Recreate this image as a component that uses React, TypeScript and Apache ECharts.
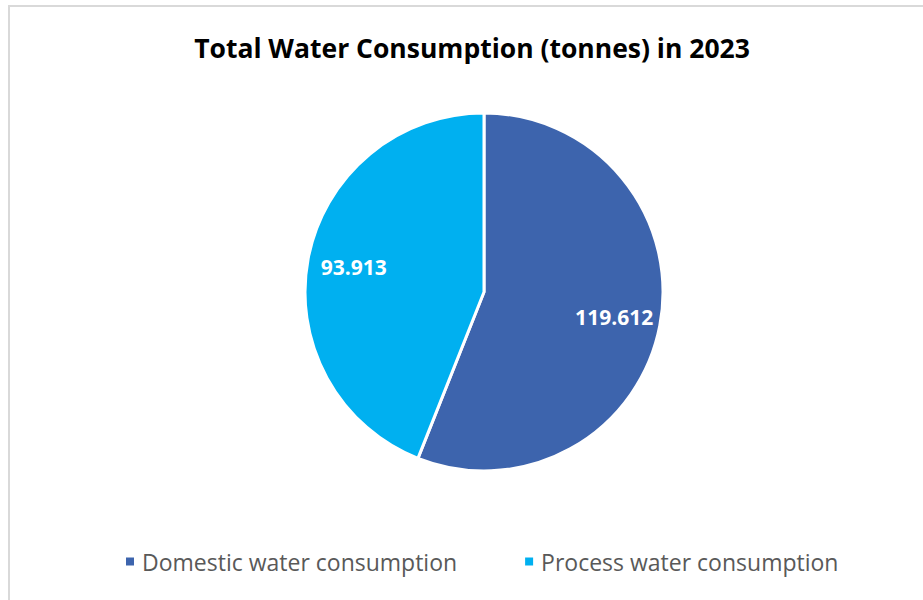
import React, { useEffect, useRef } from "react";
import * as echarts from "echarts";

const titleText = "Total Water Consumption (tonnes) in 2023";
const categories = ["Domestic water consumption", "Process water consumption"];
const values = [119.612, 93.913];
const colors = ["#3D64AD", "#00B0F0"];

export default function App() {
  const ref = useRef<HTMLDivElement>(null);
  useEffect(() => {
    if (!ref.current) return;
    const chart = echarts.init(ref.current, undefined, { renderer: "svg" });
    const data = categories.map((name, i) => ({
      name,
      value: values[i],
      itemStyle: { color: colors[i] },
    }));
    const labelData = categories.map((name, i) => ({
      name,
      value: values[i],
    }));
    chart.setOption({
      animation: false,
      backgroundColor: "#ffffff",
      title: {
        text: titleText,
        left: 467,
        textAlign: "center",
        top: 29,
        textStyle: {
          fontFamily: "Open Sans",
          fontWeight: "bold",
          fontSize: 26.5,
          color: "#000000",
        },
      },
      graphic: [
        {
          type: "rect",
          shape: { x: 9, y: 6, width: 960, height: 640 },
          style: { fill: "none", stroke: "#d9d9d9", lineWidth: 2 },
          silent: true,
          z: 100,
        },
      ],
      legend: {
        data: categories,
        bottom: 22,
        left: 119,
        itemWidth: 10,
        itemHeight: 10,
        itemGap: 66,
        icon: "rect",
        textStyle: {
          fontFamily: "Open Sans",
          fontSize: 23,
          color: "#595959",
          padding: [0, 0, 0, 2],
        },
      },
      series: [
        {
          type: "pie",
          center: [484, 292],
          radius: [0, 179],
          startAngle: 90,
          clockwise: true,
          data,
          label: { show: false },
          labelLine: { show: false },
          itemStyle: { borderColor: "#ffffff", borderWidth: 3 },
          emphasis: { disabled: true },
        },
        {
          type: "pie",
          center: [484, 292],
          radius: [80, 179],
          startAngle: 90,
          clockwise: true,
          silent: true,
          data: labelData,
          itemStyle: { color: "transparent", borderWidth: 0 },
          label: {
            show: true,
            position: "inside",
            formatter: (p: any) => p.value.toFixed(3),
            fontFamily: "Open Sans",
            fontWeight: "bold",
            fontSize: 21,
            color: "#ffffff",
          },
          labelLine: { show: false },
          emphasis: { disabled: true },
          z: 3,
        },
      ],
    });
    return () => chart.dispose();
  }, []);
  return (
    <div
      ref={ref}
      style={{ position: "absolute", left: 0, top: 0, width: 923, height: 600 }}
    />
  );
}
